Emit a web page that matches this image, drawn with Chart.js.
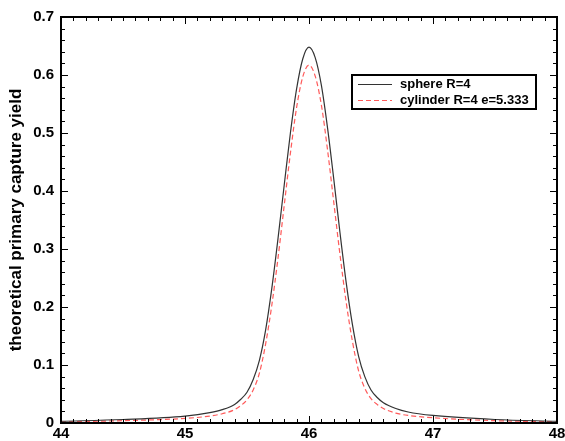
<!DOCTYPE html>
<html>
<head>
<meta charset="utf-8">
<script src="https://cdn.jsdelivr.net/npm/chart.js@4"></script>
<style>
  html, body { margin: 0; padding: 0; background: #fff; }
  #wrap { width: 565px; height: 441px; }
</style>
</head>
<body>
<div id="wrap"><canvas id="yieldChart"></canvas></div>
<script>
// energy grid (x) and the two yield curves
const energies = [44, 44.5, 45, 45.2, 45.3, 45.4, 45.45, 45.5, 45.55, 45.6, 45.65, 45.7, 45.75, 45.8, 45.85, 45.9, 45.95,
  46, 46.05, 46.1, 46.15, 46.2, 46.25, 46.3, 46.35, 46.4, 46.45, 46.5, 46.55, 46.6, 46.7, 46.8, 47, 47.5, 48];
const sphereYield = [0.003, 0.006, 0.012, 0.018, 0.023, 0.032, 0.041, 0.053, 0.075, 0.108, 0.160, 0.232, 0.318, 0.410, 0.500, 0.576, 0.628,
  0.648, 0.630, 0.582, 0.508, 0.420, 0.328, 0.242, 0.170, 0.115, 0.080, 0.057, 0.044, 0.035, 0.025, 0.019, 0.013, 0.006, 0.003];
const cylinderYield = [0.002, 0.004, 0.008, 0.012, 0.016, 0.023, 0.030, 0.040, 0.057, 0.086, 0.136, 0.203, 0.284, 0.375, 0.465, 0.544, 0.597,
  0.617, 0.598, 0.548, 0.470, 0.380, 0.290, 0.208, 0.141, 0.090, 0.060, 0.042, 0.032, 0.025, 0.017, 0.013, 0.009, 0.004, 0.002];
const seriesLabels = ["sphere R=4", "cylinder R=4 e=5.333"];
const xTicks = [44, 45, 46, 47, 48];
const yTicks = [0, 0.1, 0.2, 0.3, 0.4, 0.5, 0.6, 0.7];

const toPoints = (ys) => ys.map((y, i) => ({ x: energies[i], y }));

// frame with inward ticks on all four sides + boxed legend
const framePlugin = {
  id: "frame",
  afterDraw(chart) {
    const { ctx, chartArea: a, scales: { x, y } } = chart;
    ctx.save();
    ctx.strokeStyle = "#000";
    ctx.lineWidth = 1;
    ctx.beginPath();
    for (let v = 44; v <= 48.001; v += 0.1) {
      let px = Math.round(x.getPixelForValue(v)) + 0.5;
      let major = Math.abs(v - Math.round(v)) < 0.01;
      let len = major ? 7 : 4;
      ctx.moveTo(px, a.bottom); ctx.lineTo(px, a.bottom - len);
      ctx.moveTo(px, a.top); ctx.lineTo(px, a.top + len);
    }
    for (let v = 0; v <= 0.7001; v += 0.02) {
      let py = Math.round(y.getPixelForValue(v)) + 0.5;
      let major = Math.abs(v * 10 - Math.round(v * 10)) < 0.01;
      let len = major ? 7 : 4;
      ctx.moveTo(a.left, py); ctx.lineTo(a.left + len, py);
      ctx.moveTo(a.right, py); ctx.lineTo(a.right - len, py);
    }
    ctx.stroke();
    ctx.lineWidth = 2;
    ctx.strokeRect(a.left, a.top, a.right - a.left, a.bottom - a.top);

    // legend
    const lx = 352, ly = 75, lw = 184, lh = 34;
    ctx.fillStyle = "#fff";
    ctx.fillRect(lx, ly, lw, lh);
    ctx.lineWidth = 2;
    ctx.strokeRect(lx, ly, lw, lh);
    ctx.font = "bold 13px 'Liberation Sans', Arial, sans-serif";
    ctx.textBaseline = "middle";
    chart.data.datasets.forEach((ds, i) => {
      let yy = ly + 9 + i * 16;
      ctx.beginPath();
      ctx.lineWidth = 1;
      ctx.strokeStyle = ds.borderColor;
      ctx.setLineDash(ds.borderDash || []);
      ctx.moveTo(lx + 6, yy + 0.5);
      ctx.lineTo(lx + 40, yy + 0.5);
      ctx.stroke();
      ctx.setLineDash([]);
      ctx.fillStyle = "#000";
      ctx.fillText(ds.label, lx + 48, yy);
    });
    ctx.restore();
  },
};

const config = {
  type: "line",
  data: {
    datasets: [
      {
        label: seriesLabels[0],
        data: toPoints(sphereYield),
        borderColor: "#333333",
        borderWidth: 1.2,
        pointRadius: 0,
        fill: false,
        cubicInterpolationMode: "monotone",
      },
      {
        label: seriesLabels[1],
        data: toPoints(cylinderYield),
        borderColor: "#ff5a5a",
        borderWidth: 1.2,
        borderDash: [5, 3],
        pointRadius: 0,
        fill: false,
        cubicInterpolationMode: "monotone",
      },
    ],
  },
  options: {
    responsive: true,
    maintainAspectRatio: false,
    animation: false,
    layout: { padding: { left: 0, top: 17, right: 8, bottom: 0 } },
    plugins: { legend: { display: false }, tooltip: { enabled: false } },
    scales: {
      x: {
        type: "linear",
        min: 44,
        max: 48,
        afterBuildTicks: (s) => { s.ticks = xTicks.map((v) => ({ value: v })); },
        afterFit: (s) => { s.height = 18; s.paddingLeft = 0; s.paddingRight = 0; },
        grid: { display: false, drawTicks: false },
        border: { display: false },
        ticks: {
          color: "#000",
          padding: 2,
          maxRotation: 0,
          font: { family: "'Liberation Sans', Arial, sans-serif", size: 15, weight: "bold" },
        },
      },
      y: {
        min: 0,
        max: 0.7,
        afterBuildTicks: (s) => { s.ticks = yTicks.map((v) => ({ value: v })); },
        afterFit: (s) => { s.width = 61; s.paddingTop = 0; s.paddingBottom = 0; },
        grid: { display: false, drawTicks: false },
        border: { display: false },
        ticks: {
          color: "#000",
          padding: 7,
          callback: (v) => (v === 0 ? "0" : v.toFixed(1)),
          font: { family: "'Liberation Sans', Arial, sans-serif", size: 15, weight: "bold" },
        },
        title: {
          display: true,
          text: "theoretical primary capture yield",
          color: "#000",
          padding: { top: 6, bottom: 0 },
          font: { family: "'Liberation Sans', Arial, sans-serif", size: 17, weight: "bold" },
        },
      },
    },
  },
  plugins: [framePlugin],
};

let chartCon = document.querySelector("#yieldChart");
let chart = new Chart(chartCon, config);
</script>
</body>
</html>
